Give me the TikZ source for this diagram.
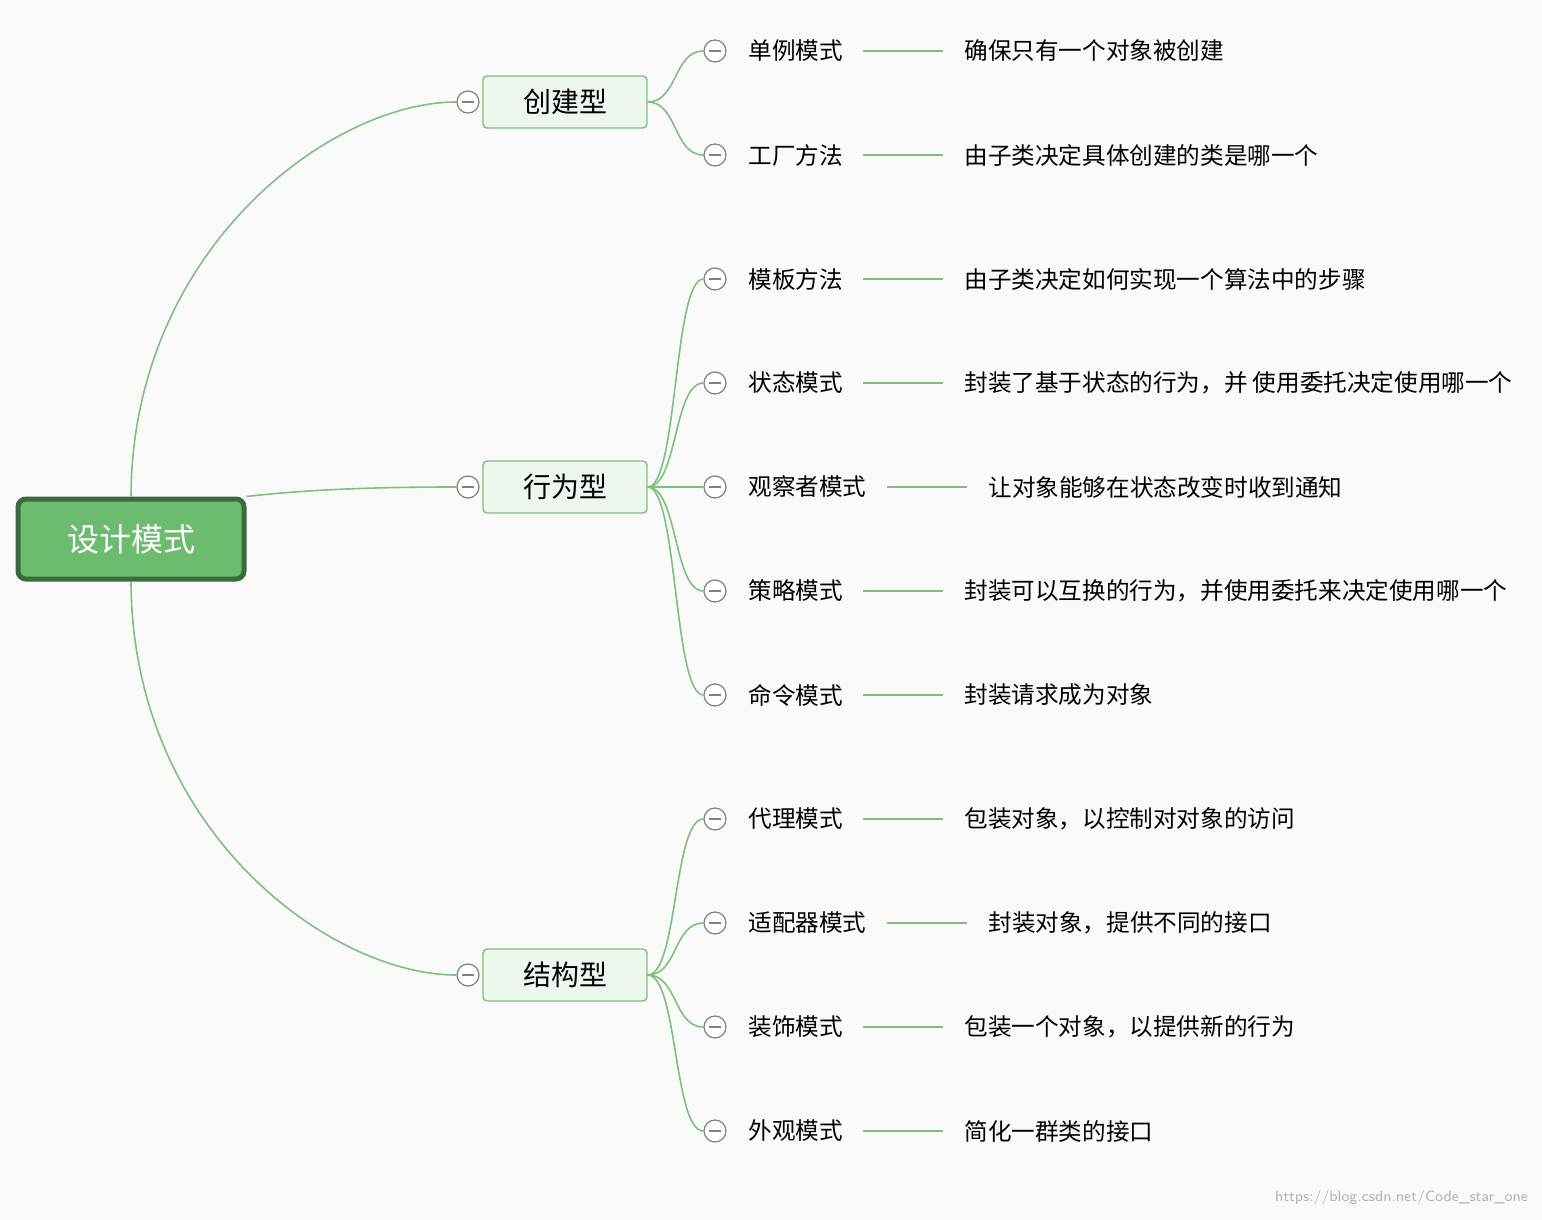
\documentclass[tikz,border=0pt]{standalone}
\usepackage{fontspec}
\setmainfont{Noto Sans CJK SC}
\usetikzlibrary{calc}
\definecolor{bg}{HTML}{FAFAFA}
\definecolor{rootfill}{HTML}{6DBB6F}
\definecolor{rootdraw}{HTML}{3A6B3D}
\definecolor{lvlfill}{HTML}{EEF7EE}
\definecolor{edge}{HTML}{7CC27D}
\tikzset{
	root/.style={draw=rootdraw, line width=2.5pt, fill=rootfill, rounded corners=4pt, minimum width=113pt, minimum height=40pt, text=white, font=\fontsize{16}{18}\selectfont},
	group/.style={draw=edge, line width=0.7pt, fill=lvlfill, rounded corners=2pt, minimum width=82pt, minimum height=26pt, font=\fontsize{14}{16}\selectfont},
	fold/.style={circle, draw=gray, line width=0.6pt, fill=white, minimum size=11pt, inner sep=0pt, path picture={\draw[gray, line width=0.6pt] ([xshift=-3pt]path picture bounding box.center) -- ([xshift=3pt]path picture bounding box.center);}},
	leaf/.style={anchor=west, inner sep=0pt, font=\fontsize{11.8}{13}\selectfont},
	link/.style={edge, line width=0.8pt}
}
\begin{document}
\begin{tikzpicture}[x=0.5pt, y=-0.5pt]
	\useasboundingbox[fill=bg] (0, 0) rectangle (1542, 1220);

	\node[root] (design) at (131, 539) {设计模式};

	\node[group] (create) at (565, 102) {创建型};
	\node[group] (behave) at (565, 487) {行为型};
	\node[group] (struct) at (565, 975) {结构型};

	\node[fold] (fc) at (468, 102) {};
	\node[fold] (fb) at (468, 487) {};
	\node[fold] (fs) at (468, 975) {};

	\draw[link] (design.north) .. controls (132, 250) and (330, 102) .. (fc.west);
	\draw[link] (design.north east) .. controls (320, 488) and (400, 487) .. (fb.west);
	\draw[link] (design.south) .. controls (132, 830) and (330, 975) .. (fs.west);

	% leaves: y / name / description / wide / parent
	\foreach \y/\nm/\ds/\w/\p in {
		51/单例模式/确保只有一个对象被创建/0/create,
		155/工厂方法/由子类决定具体创建的类是哪一个/0/create,
		279/模板方法/由子类决定如何实现一个算法中的步骤/0/behave,
		383/状态模式/封装了基于状态的行为，并 使用委托决定使用哪一个/0/behave,
		487/观察者模式/让对象能够在状态改变时收到通知/1/behave,
		591/策略模式/封装可以互换的行为，并使用委托来决定使用哪一个/0/behave,
		695/命令模式/封装请求成为对象/0/behave,
		819/代理模式/包装对象，以控制对对象的访问/0/struct,
		923/适配器模式/封装对象，提供不同的接口/1/struct,
		1027/装饰模式/包装一个对象，以提供新的行为/0/struct,
		1131/外观模式/简化一群类的接口/0/struct}
	{
		\node[fold] (f\y) at (715, \y) {};
		\node[leaf] (n\y) at (748, \y) {\nm};
		\coordinate (a\y) at (863+24*\w, \y);
		\coordinate (b\y) at (943+24*\w, \y);
		\node[leaf] (d\y) at (964+24*\w, \y) {\ds};
		\draw[link] (a\y) -- (b\y);
		\draw[link] (\p.east) .. controls ($(\p.east)+(30,0)$) and ($(f\y.west)+(-30,0)$) .. (f\y.west);
	}

	\node[anchor=south east, text=gray!60, font=\fontsize{7.5}{9}\selectfont\sffamily] (url) at (1535, 1212) {https://blog.csdn.net/Code\_star\_one};
\end{tikzpicture}
\end{document}
